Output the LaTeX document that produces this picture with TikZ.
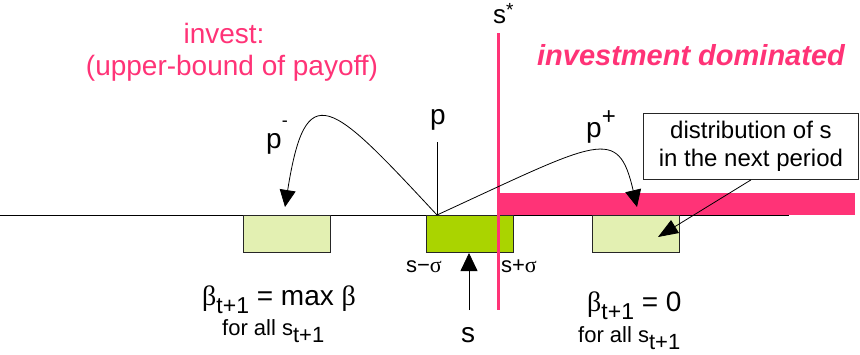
\documentclass[tikz,border=0pt]{standalone}
\usepackage{fontspec}
\setmainfont{Liberation Sans}
\newfontfamily\grk{Liberation Serif}
\usetikzlibrary{arrows.meta}
\definecolor{hotpink}{RGB}{255,51,119}
\definecolor{midgreen}{RGB}{170,212,0}
\definecolor{palegreen}{RGB}{227,240,178}
\newcommand{\fs}[1]{\fontsize{#1}{#1}\selectfont}
\begin{document}
\begin{tikzpicture}[x=1pt,y=-1pt,
  distbox/.style={draw=black!85, line width=0.9pt, minimum width=87pt, minimum height=37pt, inner sep=0pt, anchor=north west},
  curvetip/.style={-{Triangle[length=17pt,width=16pt]}},
  uptip/.style={-{Triangle[length=18pt,width=17pt]}},
  callouttip/.style={-{Triangle[length=20pt,width=15pt]}},
  thin line/.style={line width=0.8pt, black},
  lbl/.style={inner sep=0pt, anchor=base},
  lblw/.style={inner sep=0pt, anchor=base west},
  pinktext/.style={lbl, text=hotpink, font=\fs{28}},
]
\useasboundingbox (0,0) rectangle (860,354);

% pink bar (investment dominated region)
\fill[hotpink] (497,193) rectangle (855,214.6);
% horizontal axis
\coordinate (axL) at (0,215);
\coordinate (axR) at (789,215);
\draw[thin line] (axL) -- (axR);

% distributions
\node[distbox, fill=palegreen] (lbox) at (243,215) {};
\node[distbox, fill=midgreen] (gbox) at (426,215) {};
\node[distbox, fill=palegreen] (rbox) at (592,215) {};

% threshold s*
\coordinate (stop) at (498,33);
\coordinate (sbot) at (498,310);
\draw[hotpink, line width=3pt] (stop) -- (sbot);
\node[lblw, font=\fs{26}] (sstar) at (493,23) {s\raisebox{7pt}{\fs{19}*}};

% texts in pink
\node[pinktext] (inv1) at (224,43) {invest:};
\node[pinktext] (inv2) at (232,75) {(upper-bound of payoff)};
\node[lbl, text=hotpink, font=\fs{29}\bfseries\itshape] (dom) at (691,65) {investment dominated};

% p and its line
\node[lbl, font=\fs{28}] (plab) at (438,124) {p};
\coordinate (ptop) at (437,142);
\coordinate (pbase) at (437,215);
\draw[thin line] (ptop) -- (pbase);

% p- and p+ transitions
\coordinate (pminus) at (285,207);
\coordinate (pplus) at (637,207);
\draw[thin line, curvetip] (pbase) .. controls (330,100) and (306,75) .. (pminus);
\draw[thin line, curvetip] (pbase) .. controls (600,140) and (618,125) .. (pplus);
\node[lblw, font=\fs{28}] (pmlab) at (266,148) {p\raisebox{22pt}{\fs{18}-}};
\node[lblw, font=\fs{28}] (pplab) at (586,137) {p\raisebox{13pt}{\fs{24}+}};

% callout
\node[draw=black!85, line width=0.9pt, fill=white, minimum width=215pt, minimum height=66pt,
      inner sep=0pt, align=center, font=\fs{24}, anchor=north west] (dist) at (643,113)
      {distribution of s\\[4pt]in the next period};
\coordinate (distpt) at (658,237);
\draw[thin line, callouttip] (dist.south) -- (distpt);

% s arrow
\coordinate (sfoot) at (469,310);
\coordinate (shead) at (469,253);
\draw[thin line, uptip] (sfoot) -- (shead);
\node[lbl, font=\fs{28}] (slab) at (468,342) {s};
\node[lbl, font=\fs{22}] (sminus) at (424,272) {s−{\grk σ}};
\node[lbl, font=\fs{22}] (splus) at (519,272) {s+{\grk σ}};

% beta labels
\node[lblw, font=\fs{28}] (bleft) at (202,305) {{\grk β}\raisebox{-8pt}{\fs{23}t+1} = max {\grk β}};
\node[lblw, font=\fs{22}] (fleft) at (222,335) {for all s\raisebox{-7pt}{t+1}};
\node[lblw, font=\fs{28}] (bright) at (587,311) {{\grk β}\raisebox{-8pt}{\fs{23}t+1} = 0};
\node[lblw, font=\fs{22}] (fright) at (578,342) {for all s\raisebox{-7pt}{t+1}};
\end{tikzpicture}
\end{document}
